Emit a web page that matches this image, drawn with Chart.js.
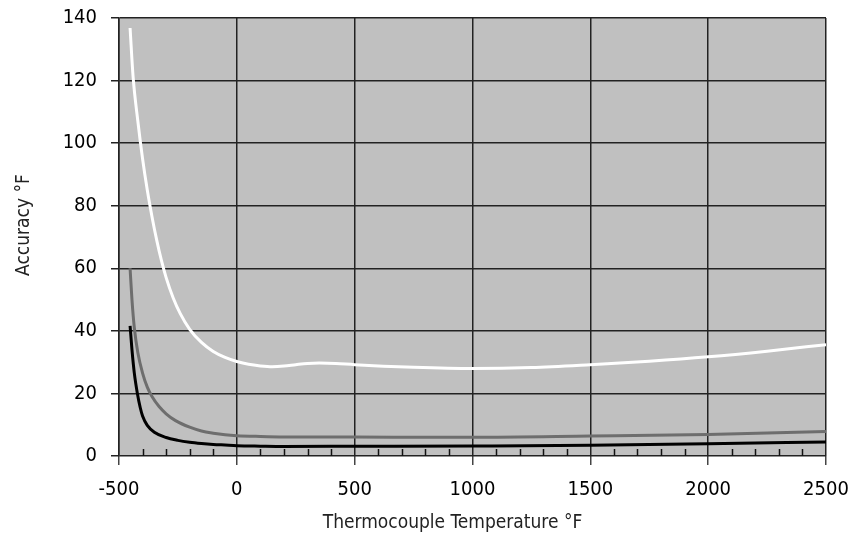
<!DOCTYPE html>
<html>
<head>
<meta charset="utf-8">
<script src="https://cdn.jsdelivr.net/npm/chart.js@4/dist/chart.umd.min.js"></script>
<style>
  html, body { margin: 0; padding: 0; background: #fff; }
  #wrap { width: 849px; height: 542px; position: relative; }
</style>
</head>
<body>
<div id="wrap"><canvas id="c"></canvas></div>
<script>
// temperatures (°F) and accuracy (°F)
const whiteX = [-453, -440, -420, -400, -380, -360, -340, -320, -300, -270, -240, -200, -150, -100, -50, 0, 50, 100, 150, 200, 250, 300, 350, 420, 500, 750, 1000, 1250, 1500, 1750, 2000, 2250, 2500];
const whiteY = [136.8, 121, 107, 95, 85, 76.5, 69, 62.5, 57, 50.5, 45.5, 40.5, 36.3, 33.4, 31.5, 30.2, 29.3, 28.8, 28.55, 28.75, 29.2, 29.6, 29.75, 29.6, 29.2, 28.4, 28.0, 28.3, 29.2, 30.3, 31.7, 33.5, 35.6];

const grayX = [-453, -445, -435, -420, -400, -380, -360, -330, -300, -260, -200, -150, -100, -50, 0, 100, 200, 500, 1000, 1500, 2000, 2500];
const grayY = [60, 50, 41, 33, 26.5, 22, 19, 15.8, 13.5, 11.3, 9.2, 8.0, 7.3, 6.8, 6.5, 6.25, 6.1, 6.05, 6.0, 6.4, 6.9, 7.8];

const blackX = [-453, -445, -435, -422, -410, -400, -380, -350, -300, -250, -200, -150, -100, -50, 0, 100, 200, 500, 1000, 1500, 2000, 2500];
const blackY = [41.6, 34, 26.5, 20, 15.5, 12.8, 9.8, 7.6, 5.9, 5.0, 4.4, 4.0, 3.7, 3.5, 3.3, 3.15, 3.05, 3.1, 3.2, 3.4, 3.9, 4.5];

const xTicks = [-500, 0, 500, 1000, 1500, 2000, 2500];
const yTicks = [0, 20, 40, 60, 80, 100, 120, 140];

const FONT = "'Liberation Sans Narrow', 'DejaVu Sans Condensed', 'Roboto', sans-serif";

const pts = (xs, ys) => xs.map((x, i) => ({ x: x, y: ys[i] }));

const plotBg = {
    id: 'plotBg',
    beforeDraw(chart) {
        const a = chart.chartArea, ctx = chart.ctx;
        ctx.save();
        ctx.fillStyle = '#c0c0c0';
        ctx.fillRect(a.left, a.top, a.right - a.left, a.bottom - a.top);
        ctx.restore();
    }
};

// short inside ticks every 100 on the x axis + axis titles
const extras = {
    id: 'extras',
    afterDatasetsDraw(chart) {
        const ctx = chart.ctx, xs = chart.scales.x, a = chart.chartArea;
        ctx.save();
        ctx.strokeStyle = '#111';
        ctx.lineWidth = 1.5;
        for (let v = -400; v < 2500; v += 100) {
            if (v % 500 === 0) continue;
            const px = Math.round(xs.getPixelForValue(v)) + 0.5;
            ctx.beginPath();
            ctx.moveTo(px, a.bottom);
            ctx.lineTo(px, a.bottom - 7);
            ctx.stroke();
        }
        ctx.fillStyle = '#222';
        ctx.font = '19px ' + FONT;
        ctx.textAlign = 'center';
        ctx.textBaseline = 'middle';
        ctx.fillText('Thermocouple Temperature °F', (a.left + a.right) / 2 - 20, 523);
        ctx.translate(24, (a.top + a.bottom) / 2 - 12);
        ctx.rotate(-Math.PI / 2);
        ctx.fillText('Accuracy °F', 0, 0);
        ctx.restore();
    }
};

const line = (data, color) => ({
    data: data,
    borderColor: color,
    borderWidth: 3,
    pointRadius: 0,
    showLine: true,
    fill: false,
    cubicInterpolationMode: 'monotone'
});

new Chart(document.getElementById('c'), {
    type: 'scatter',
    data: {
        datasets: [
            line(pts(whiteX, whiteY), '#ffffff'),
            line(pts(grayX, grayY), '#6e6e6e'),
            line(pts(blackX, blackY), '#000000')
        ]
    },
    options: {
        responsive: true,
        maintainAspectRatio: false,
        animation: false,
        layout: { padding: { left: 0, right: 23, top: 18, bottom: 0 } },
        plugins: { legend: { display: false }, tooltip: { enabled: false } },
        scales: {
            x: {
                type: 'linear', min: -500, max: 2500,
                afterBuildTicks: s => { s.ticks = xTicks.map(v => ({ value: v })); },
                afterFit: s => { s.height = 86; s.paddingLeft = 0; s.paddingRight = 0; },
                grid: { color: '#222', lineWidth: 1.5, tickLength: 9, tickColor: '#444', tickWidth: 1.5 },
                border: { display: false },
                ticks: { color: '#000', font: { family: FONT, size: 20 }, padding: 13, maxRotation: 0,
                         callback: v => String(v) }
            },
            y: {
                type: 'linear', min: 0, max: 140,
                afterBuildTicks: s => { s.ticks = yTicks.map(v => ({ value: v })); },
                afterFit: s => { s.width = 119; s.paddingTop = 0; s.paddingBottom = 0; },
                grid: { color: '#222', lineWidth: 1.5, tickLength: 8, tickColor: '#222', tickWidth: 1.5 },
                border: { display: true, color: '#222', width: 1.5 },
                ticks: { color: '#000', font: { family: FONT, size: 20 }, padding: 14,
                         callback: v => String(v) }
            }
        }
    },
    plugins: [plotBg, extras]
});
</script>
</body>
</html>
